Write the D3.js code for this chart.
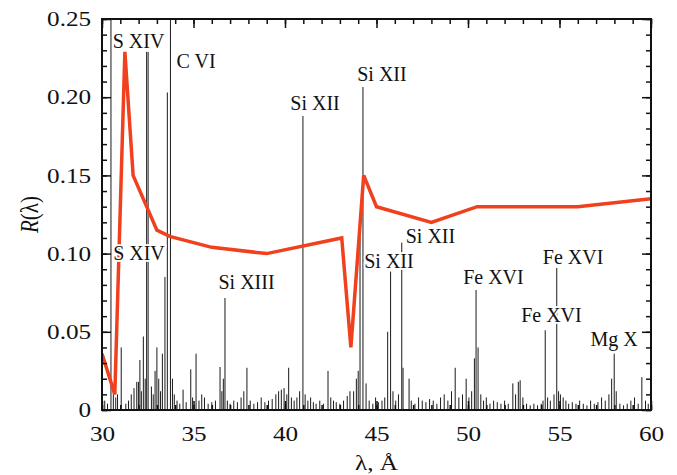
<!DOCTYPE html>
<html>
<head>
<meta charset="utf-8">
<script src="https://cdn.jsdelivr.net/npm/d3@7"></script>
<style>
  body { margin: 0; background: #fff; }
</style>
</head>
<body>
<div class="board"></div>
<script>
  const width = 677;
  const height = 475;
  const margin = { top: 19, right: 26, bottom: 65, left: 102 };
  const serif = "'Liberation Serif', 'Times New Roman', serif";
  // axis numbers in the print are a bit wider than the font
  const stretch = 1.2;

  // R(lambda) curve
  const curveLambda = [30, 30.7, 31.25, 31.7, 33.0, 33.7, 36.0, 39.0, 43.1, 43.6, 44.3, 45.0, 48.0, 50.5, 56.0, 60.0];
  const curveR = [0.036, 0.010, 0.229, 0.150, 0.115, 0.111, 0.104, 0.100, 0.110, 0.040, 0.150, 0.130, 0.120, 0.130, 0.130, 0.135];

  // spectrum lines [lambda, intensity]
  const spectrum = [
    [30.15, 0.006], [30.3, 0.004], [30.49, 0.26], [30.62, 0.015], [30.75, 0.008], [30.85, 0.010],
    [31.05, 0.040], [31.3, 0.004], [31.45, 0.006], [31.6, 0.010], [31.75, 0.014], [31.9, 0.018],
    [31.99, 0.018], [32.07, 0.032], [32.15, 0.012], [32.26, 0.047], [32.36, 0.020], [32.44, 0.229],
    [32.52, 0.229], [32.7, 0.015], [32.8, 0.010], [32.9, 0.025], [33.0, 0.040], [33.1, 0.020],
    [33.2, 0.012], [33.3, 0.036], [33.44, 0.085], [33.57, 0.203], [33.74, 0.26], [33.85, 0.020],
    [33.95, 0.010], [34.1, 0.006], [34.25, 0.004], [34.43, 0.013], [34.6, 0.005], [34.85, 0.026],
    [34.95, 0.008], [35.14, 0.036], [35.3, 0.006], [35.45, 0.010], [35.6, 0.008], [35.8, 0.004],
    [36.0, 0.005], [36.2, 0.006], [36.45, 0.0275], [36.55, 0.012], [36.63, 0.020], [36.72, 0.0716],
    [36.85, 0.006], [37.0, 0.004], [37.2, 0.006], [37.4, 0.005], [37.6, 0.008], [37.75, 0.012],
    [37.92, 0.027], [38.1, 0.006], [38.3, 0.004], [38.5, 0.005], [38.7, 0.008], [38.9, 0.005],
    [39.1, 0.006], [39.3, 0.007], [39.5, 0.010], [39.65, 0.012], [39.8, 0.013], [39.95, 0.014],
    [40.1, 0.010], [40.2, 0.027], [40.35, 0.008], [40.5, 0.006], [40.65, 0.008], [40.8, 0.012],
    [40.98, 0.188], [41.1, 0.010], [41.25, 0.006], [41.4, 0.008], [41.55, 0.005], [41.7, 0.004],
    [41.9, 0.006], [42.1, 0.004], [42.35, 0.025], [42.5, 0.008], [42.65, 0.006], [42.8, 0.005],
    [43.0, 0.004], [43.2, 0.006], [43.4, 0.009], [43.55, 0.012], [43.75, 0.012], [43.9, 0.020],
    [44.0, 0.025], [44.1, 0.111], [44.26, 0.2065], [44.43, 0.017], [44.6, 0.006], [44.8, 0.004],
    [44.95, 0.008], [45.1, 0.005], [45.3, 0.006], [45.45, 0.008], [45.61, 0.050], [45.77, 0.0885],
    [45.9, 0.012], [46.05, 0.006], [46.2, 0.010], [46.38, 0.107], [46.45, 0.027], [46.78, 0.020],
    [46.9, 0.006], [47.1, 0.004], [47.3, 0.008], [47.5, 0.006], [47.7, 0.005], [47.9, 0.007],
    [48.1, 0.006], [48.3, 0.004], [48.5, 0.008], [48.7, 0.010], [48.9, 0.006], [49.1, 0.012],
    [49.3, 0.027], [49.5, 0.008], [49.7, 0.010], [49.9, 0.020], [50.05, 0.008], [50.2, 0.012],
    [50.35, 0.033], [50.44, 0.0767], [50.55, 0.040], [50.7, 0.010], [50.85, 0.006], [51.0, 0.008],
    [51.2, 0.004], [51.4, 0.006], [51.6, 0.005], [51.8, 0.004], [52.0, 0.006], [52.2, 0.004],
    [52.45, 0.017], [52.6, 0.010], [52.75, 0.018], [52.85, 0.019], [53.0, 0.008], [53.2, 0.004],
    [53.4, 0.003], [53.6, 0.004], [53.8, 0.003], [54.0, 0.004], [54.1, 0.006], [54.22, 0.051],
    [54.35, 0.008], [54.5, 0.006], [54.7, 0.010], [54.85, 0.0908], [54.95, 0.012], [55.05, 0.010],
    [55.2, 0.008], [55.35, 0.006], [55.5, 0.004], [55.7, 0.005], [55.9, 0.004], [56.1, 0.006],
    [56.3, 0.004], [56.5, 0.003], [56.7, 0.006], [56.9, 0.004], [57.1, 0.005], [57.3, 0.008],
    [57.5, 0.006], [57.7, 0.010], [57.85, 0.020], [57.99, 0.036], [58.1, 0.012], [58.3, 0.004],
    [58.5, 0.003], [58.7, 0.004], [58.9, 0.006], [59.1, 0.008], [59.3, 0.004], [59.5, 0.021],
    [59.7, 0.006], [59.85, 0.004]
  ];

  // ion labels, anchored in data coords (text centre, baseline)
  const ionNames = ["S XIV", "C VI", "S XIV", "Si XIII", "Si XII", "Si XII", "Si XII", "Si XII", "Fe XVI", "Fe XVI", "Fe XVI", "Mg X"];
  const ionLambda = [32.0, 35.14, 32.02, 37.9, 41.64, 45.3, 45.68, 47.95, 51.39, 54.56, 55.74, 57.98];
  const ionR = [0.2315, 0.2187, 0.0959, 0.0774, 0.1918, 0.2104, 0.0908, 0.1068, 0.0806, 0.0563, 0.0934, 0.0409];

  const xTicks = [30, 35, 40, 45, 50, 55, 60];
  const yTicks = [0, 0.05, 0.10, 0.15, 0.20, 0.25];
  const yTickLabels = ["0", "0.05", "0.10", "0.15", "0.20", "0.25"];

  const svg = d3.select(".board")
                .append("svg")
                .attr("width", width)
                .attr("height", height)
                .style("font-family", serif);

  const x = d3.scaleLinear().domain([30, 60]).range([margin.left, width - margin.right]);
  const y = d3.scaleLinear().domain([0, 0.25]).range([height - margin.bottom, margin.top]);

  svg.append("clipPath").attr("id", "plot")
     .append("rect")
     .attr("x", margin.left).attr("y", margin.top)
     .attr("width", x(60) - x(30)).attr("height", y(0) - y(0.25));

  const plot = svg.append("g").attr("clip-path", "url(#plot)");

  plot.selectAll("line.spec")
      .data(spectrum)
      .enter()
      .append("line")
      .attr("class", "spec")
      .attr("x1", function(d) { return x(d[0]); })
      .attr("x2", function(d) { return x(d[0]); })
      .attr("y1", y(0))
      .attr("y2", function(d) { return y(d[1]); })
      .attr("stroke", "#1a1a1a")
      .attr("stroke-width", 1);

  const curve = d3.line()
                  .x(function(d, i) { return x(d); })
                  .y(function(d, i) { return y(curveR[i]); });

  plot.append("path")
      .attr("d", curve(curveLambda))
      .attr("fill", "none")
      .attr("stroke", "#f0401e")
      .attr("stroke-width", 3.5)
      .attr("stroke-linejoin", "miter");

  // labels knock out what lies under them
  svg.selectAll("text.ion")
     .data(ionNames)
     .enter()
     .append("text")
     .attr("class", "ion")
     .attr("x", function(d, i) { return x(ionLambda[i]); })
     .attr("y", function(d, i) { return y(ionR[i]); })
     .attr("text-anchor", "middle")
     .style("font-family", serif)
     .style("font-size", "20px")
     .attr("fill", "#111")
     .attr("stroke", "#fff")
     .attr("stroke-width", 3.5)
     .attr("paint-order", "stroke")
     .text(function(d) { return d; });

  // axes, ticks inward on all four sides
  const drawAxis = function(axis, tx, ty) {
    const g = svg.append("g").attr("transform", "translate(" + tx + "," + ty + ")").call(axis);
    g.attr("font-family", null);
    g.select(".domain").remove();
    g.selectAll("line").attr("stroke", "#111").attr("stroke-width", 1.5);
    return g;
  };

  drawAxis(d3.axisBottom(x).tickValues(d3.range(30, 61, 1)).tickSize(-5).tickFormat(""), 0, y(0));
  drawAxis(d3.axisTop(x).tickValues(d3.range(30, 61, 1)).tickSize(-5).tickFormat(""), 0, y(0.25));
  drawAxis(d3.axisLeft(y).tickValues(d3.range(0, 0.2501, 0.01)).tickSize(-5).tickFormat(""), x(30), 0);
  drawAxis(d3.axisRight(y).tickValues(d3.range(0, 0.2501, 0.01)).tickSize(-5).tickFormat(""), x(60), 0);
  drawAxis(d3.axisTop(x).tickValues(xTicks).tickSize(-9).tickFormat(""), 0, y(0.25));
  drawAxis(d3.axisRight(y).tickValues(yTicks).tickSize(-9).tickFormat(""), x(60), 0);

  const xAxis = drawAxis(d3.axisBottom(x).tickValues(xTicks).tickSize(-9).tickPadding(16)
                          .tickFormat(d3.format("d")), 0, y(0));
  xAxis.selectAll("text")
       .style("font-family", serif).style("font-size", "21px")
       .attr("fill", "#111")
       .attr("transform", "scale(" + stretch + ",1)");

  const yAxis = drawAxis(d3.axisLeft(y).tickValues(yTicks).tickSize(-9).tickPadding(0)
                          .tickFormat(function(d, i) { return yTickLabels[i]; }), x(30), 0);
  yAxis.selectAll("text")
       .style("font-family", serif).style("font-size", "21px")
       .attr("fill", "#111")
       .attr("x", -9)
       .attr("transform", "scale(" + stretch + ",1)");

  svg.append("rect")
     .attr("x", x(30)).attr("y", y(0.25))
     .attr("width", x(60) - x(30)).attr("height", y(0) - y(0.25))
     .attr("fill", "none")
     .attr("stroke", "#111")
     .attr("stroke-width", 2);

  svg.append("text")
     .attr("transform", "translate(" + x(45) + ",470) scale(" + stretch + ",1)")
     .attr("text-anchor", "middle")
     .style("font-family", serif)
     .style("font-size", "21px")
     .attr("fill", "#111")
     .text("λ, Å");

  const yTitle = svg.append("text")
                    .attr("transform", "translate(38," + y(0.125) + ") rotate(-90) scale(1," + stretch + ")")
                    .attr("text-anchor", "middle")
                    .style("font-family", serif)
                    .style("font-size", "21px")
                    .attr("fill", "#111");
  yTitle.append("tspan").attr("font-style", "italic").text("R");
  yTitle.append("tspan").text("(λ)");
</script>
</body>
</html>
